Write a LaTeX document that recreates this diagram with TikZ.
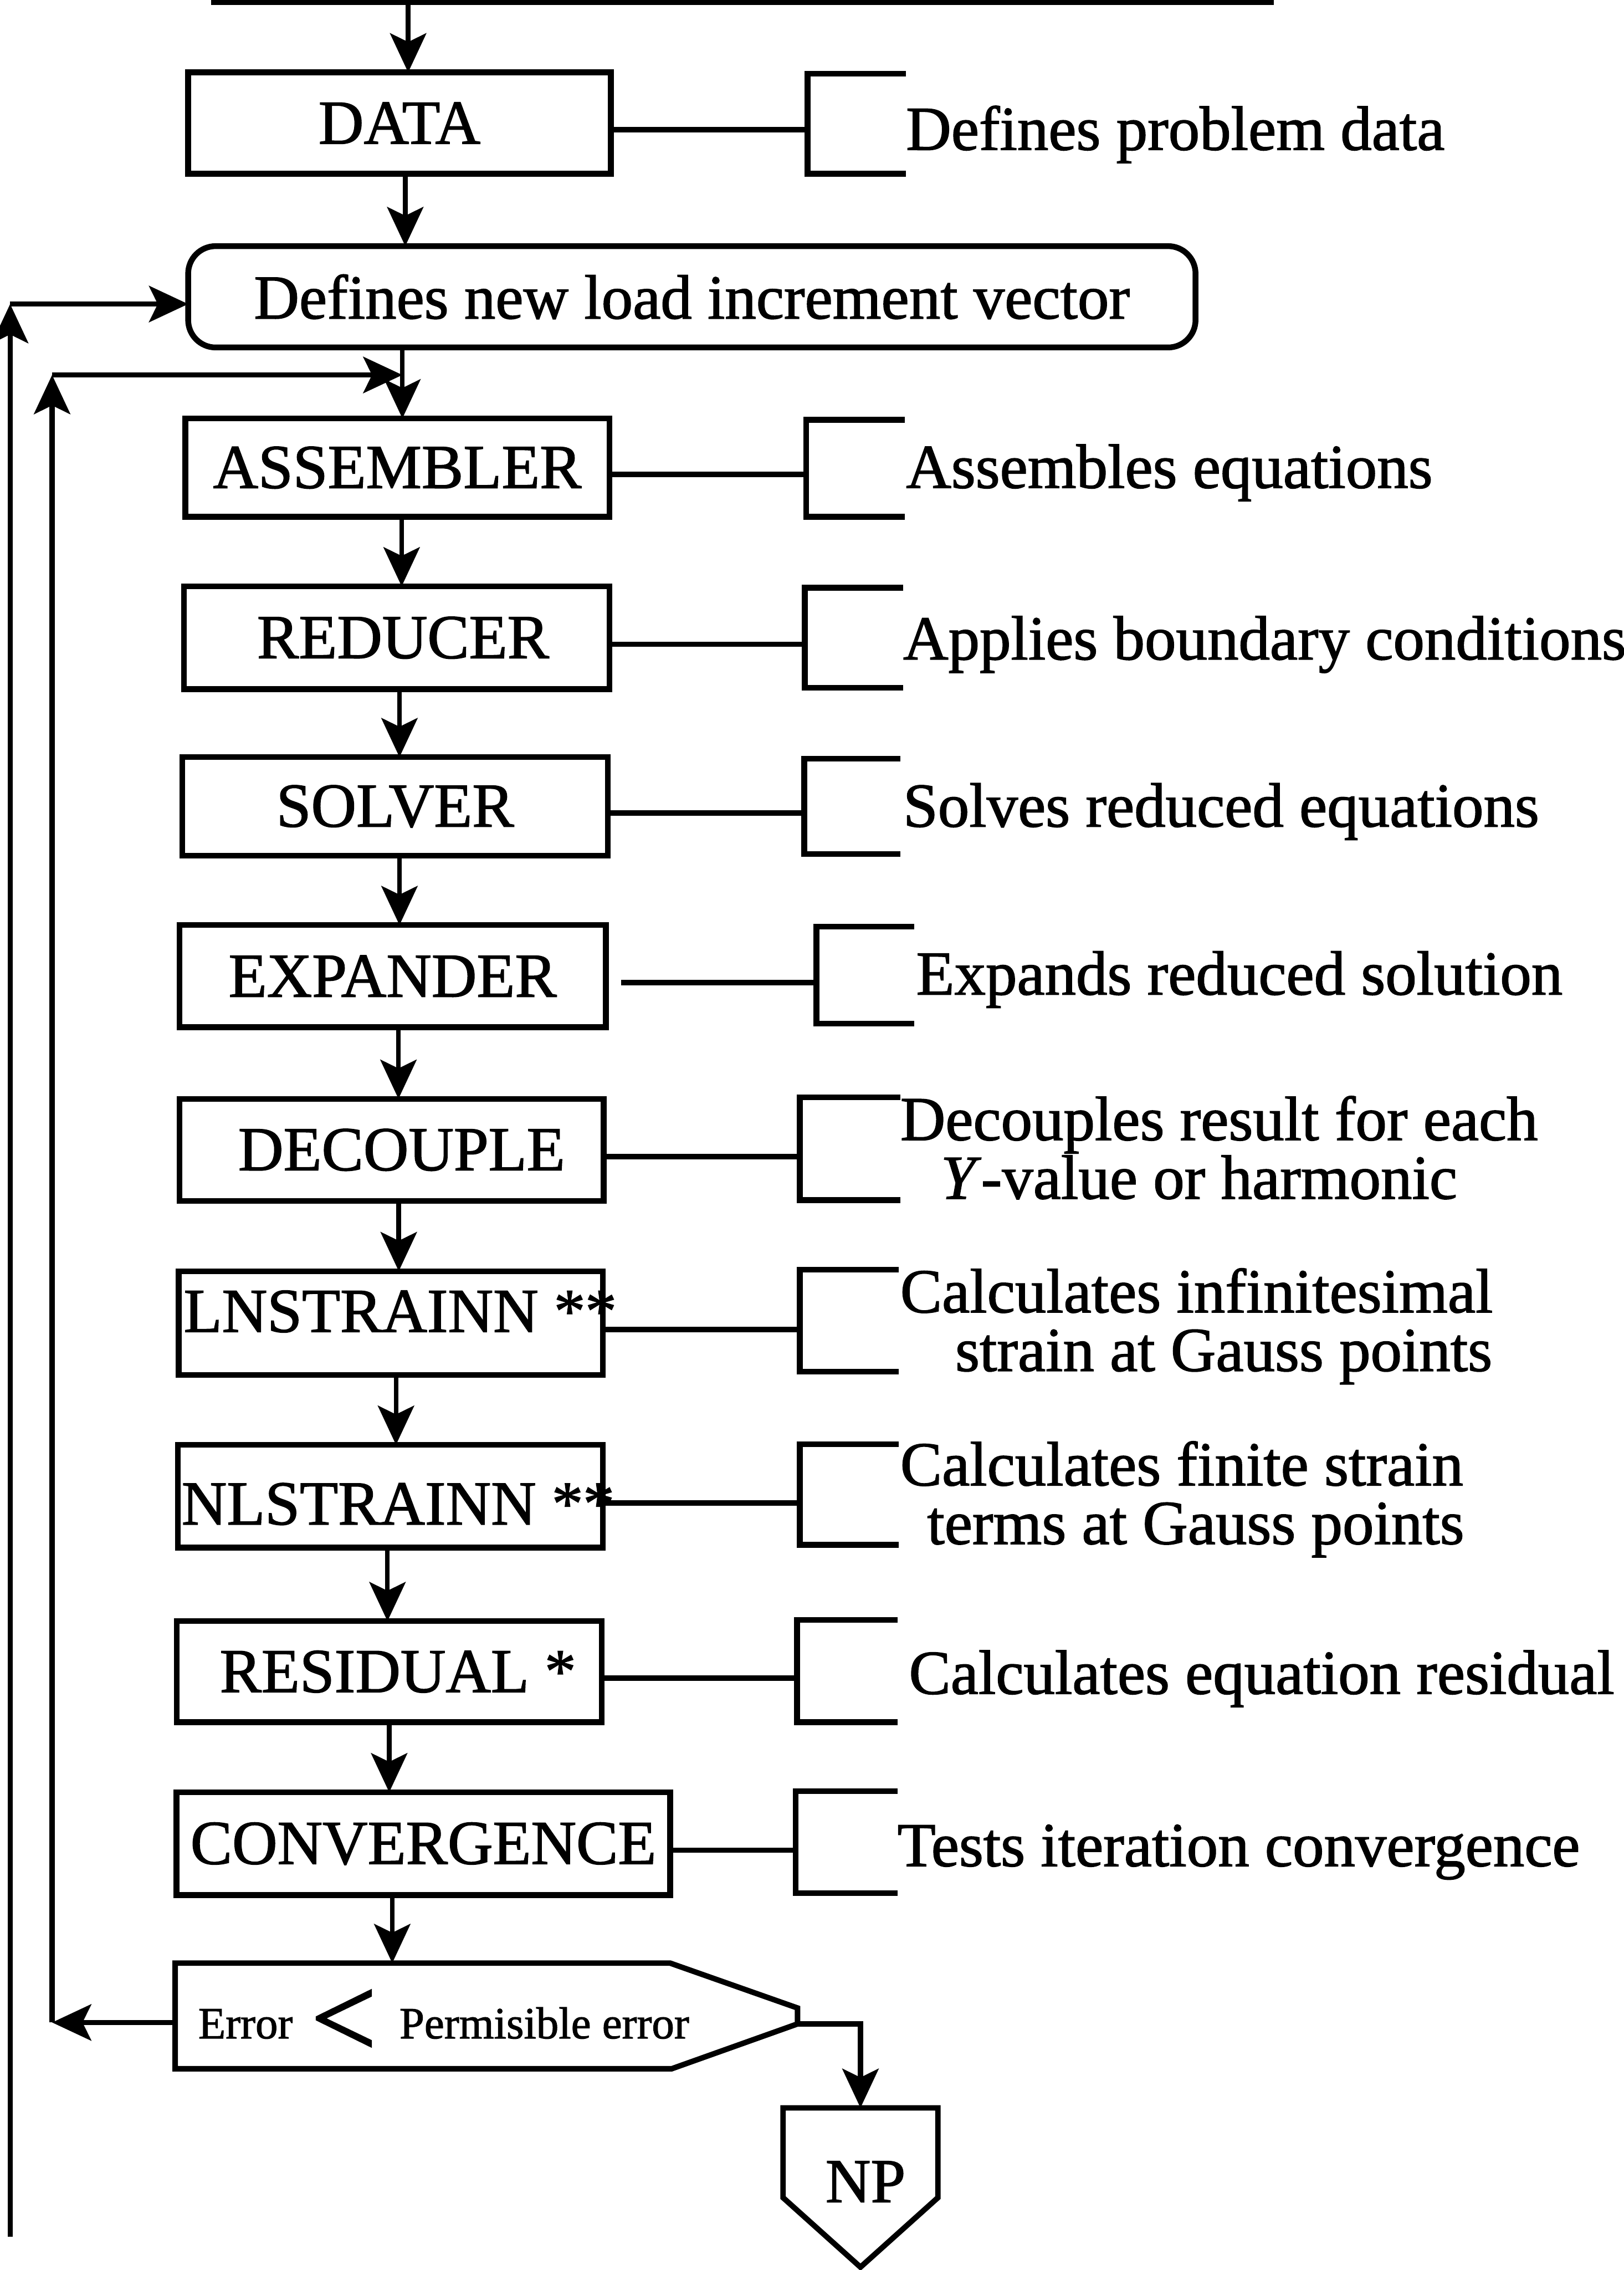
\documentclass[tikz,border=0pt]{standalone}
\usepackage{fontspec}
\setmainfont{Liberation Serif}[FakeBold=1.4]
\usetikzlibrary{arrows.meta,calc}
\begin{document}
\begin{tikzpicture}[x=0.1mm,y=-0.1mm,
  every node/.style={inner sep=0pt, outer sep=0pt},
  txt/.style={font=\fontsize{12.3pt}{14pt}\selectfont},
  proc/.style={draw, line width=0.4mm, rectangle, txt},
  roundbox/.style={proc, rounded corners=1.9mm},
  hold/.style={draw=none, rectangle},
  note/.style={txt, anchor=base west},
  small/.style={font=\fontsize{8.8pt}{10pt}\selectfont, anchor=base west},
  brk/.style={line width=0.4mm, line join=miter},
  conn/.style={line width=0.38mm},
  tip/.style={-{Stealth[length=2.7mm, width=2.5mm, inset=0.6mm]}},
  flow/.style={line width=0.32mm, tip},
  back/.style={line width=0.36mm, tip},
]
\useasboundingbox (0,0) rectangle (1122,1568);

% ---------- main column ----------
\node[proc, minimum width=29.2mm, minimum height=7mm] (data) at (276,85) {DATA};
\node[roundbox, minimum width=69.6mm, minimum height=7mm] (nlv) at (478,205) {Defines new load increment vector};
\node[proc, minimum width=29.3mm, minimum height=6.8mm] (asm) at (274.5,323) {ASSEMBLER};
\node[proc, minimum width=29.4mm, minimum height=7.1mm] (red) at (274,440.5) {\hspace*{0.9mm}REDUCER};
\node[proc, minimum width=29.4mm, minimum height=6.8mm] (sol) at (273,557) {SOLVER};
\node[proc, minimum width=29.46mm, minimum height=7.05mm] (exp) at (271.3,674.25) {EXPANDER};
\node[proc, minimum width=29.3mm, minimum height=7.05mm] (dcp) at (270.5,794.25) {\hspace*{1.4mm}DECOUPLE};
\node[proc, minimum width=29.3mm, minimum height=7.17mm] (lns) at (270,913.9) {};
\node[note] (lnsl) at (127,920) {LNSTRAINN **};
\node[proc, minimum width=29.38mm, minimum height=7.1mm] (nls) at (269.7,1033.5) {};
\node[note] (nlsl) at (125.5,1053) {NLSTRAINN **};
\node[proc, minimum width=29.37mm, minimum height=6.98mm] (res) at (268.9,1154.7) {\hspace*{1.2mm}RESIDUAL *};
\node[proc, minimum width=34.1mm, minimum height=7.1mm] (cnv) at (292.5,1273.5) {CONVERGENCE};

% decision box
\node[hold, minimum width=43mm, minimum height=7.3mm] (test) at (336,1392.5) {};
\draw[conn, line join=miter] (test.north west) -- ++(342,0) -- ([yshift=0.55mm]test.east)
  -- ([yshift=-0.55mm]test.east) -- ($(test.south west)+(343,0)$) -- (test.south west) -- cycle;
\node[small] (err) at (137,1408) {Error};
\node[font=\fontsize{23pt}{24pt}\selectfont, anchor=base west] (lt) at (214.7,1421) {<};
\node[small] (perm) at (276,1408) {Permisible error};

% end connector
\node[hold, minimum width=10.7mm, minimum height=6.2mm] (np) at (594.5,1487) {};
\draw[conn, line join=miter] (np.south west) -- (np.north west) -- (np.north east)
  -- (np.south east) -- ($(np.south)+(0,48)$) -- cycle;
\node[txt] (npl) at (598,1507) {NP};

% ---------- description column ----------
\node[hold, minimum width=6.8mm, minimum height=6.9mm] (br1) at (592,85.5) {};
\node[hold, minimum width=6.8mm, minimum height=6.7mm] (br2) at (591,323.5) {};
\node[hold, minimum width=6.8mm, minimum height=6.9mm] (br3) at (590,440.5) {};
\node[hold, minimum width=6.64mm, minimum height=6.6mm] (br4) at (588.8,557) {};
\node[hold, minimum width=6.76mm, minimum height=6.7mm] (br5) at (597.8,673.5) {};
\node[hold, minimum width=6.95mm, minimum height=7.1mm] (br6) at (587.25,793.5) {};
\node[hold, minimum width=6.85mm, minimum height=7.05mm] (br7) at (586.75,912.25) {};
\node[hold, minimum width=6.85mm, minimum height=6.94mm] (br8) at (586.75,1032.3) {};
\node[hold, minimum width=6.94mm, minimum height=7.05mm] (br9) at (585.3,1154.25) {};
\node[hold, minimum width=7.03mm, minimum height=7.03mm] (br10) at (584.85,1272.45) {};
\foreach \b in {br1,br2,br3,br4,br5,br6,br7,br8,br9,br10}
  \draw[brk] (\b.north east) -- (\b.north west) -- (\b.south west) -- (\b.south east);

\foreach \n/\b/\s in {data/br1/0mm, asm/br2/0mm, red/br3/0mm, sol/br4/0mm, exp/br5/1.05mm,
    dcp/br6/0mm, lns/br7/0mm, nls/br8/0mm, res/br9/0mm, cnv/br10/0mm} {
  \path ([xshift=\s, yshift=-0.45mm]\n.east) coordinate (cc);
  \draw[conn] (cc) -- (cc -| \b.west);
}

\node[note] (d1) at (626,103.5) {Defines problem data};
\node[note] (d2) at (626,337) {Assembles equations};
\node[note] (d3) at (624,455.5) {Applies boundary conditions};
\node[note] (d4) at (624,571) {Solves reduced equations};
\node[note] (d5) at (633,687) {Expands reduced solution};
\node[note] (d6) at (622,787.5) {\vtop{\baselineskip=4.05mm\hbox{Decouples result for each}\hbox{\hspace*{2.8mm}\textit{Y}-value or harmonic}}};
\node[note] (d7) at (622,906.5) {\vtop{\baselineskip=4.05mm\hbox{Calculates infinitesimal}\hbox{\hspace*{3.8mm}strain at Gauss points}}};
\node[note] (d8) at (622,1026) {\vtop{\baselineskip=4.05mm\hbox{Calculates finite strain}\hbox{\hspace*{1.86mm}terms at Gauss points}}};
\node[note] (d9) at (628,1170) {Calculates equation residual};
\node[note] (d10) at (620,1289) {Tests iteration convergence};

% ---------- flow arrows ----------
\coordinate (tl) at (146,1.5);
\coordinate (tr) at (880,1.5);
\coordinate (tin) at (282,1.5);
\draw[conn] (tl) -- (tr);
\draw[flow] (tin) -- (tin |- data.north);

\path ([xshift=0.4mm]data.south) coordinate (a1);
\draw[flow] (a1) -- (a1 |- nlv.north);
\path ([xshift=0.35mm]asm.north) coordinate (asmin);
\draw[flow] (asmin |- nlv.south) -- (asmin);
\path ([xshift=0.3mm]asm.south) coordinate (a2);
\draw[flow] (a2) -- (a2 |- red.north);
\path ([xshift=0.2mm]red.south) coordinate (a3);
\draw[flow] (a3) -- (a3 |- sol.north);
\path ([xshift=0.3mm]sol.south) coordinate (a4);
\draw[flow] (a4) -- (a4 |- exp.north);
\path ([xshift=0.4mm]exp.south) coordinate (a5);
\draw[flow] (a5) -- (a5 |- dcp.north);
\path ([xshift=0.5mm]dcp.south) coordinate (a6);
\draw[flow] (a6) -- (a6 |- lns.north);
\path ([xshift=0.36mm]lns.south) coordinate (a7);
\draw[flow] (a7) -- (a7 |- nls.north);
\path ([xshift=-0.2mm]nls.south) coordinate (a8);
\draw[flow] (a8) -- (a8 |- res.north);
\draw[flow] (res.south) -- (res.south |- cnv.north);
\path ([xshift=-2.15mm]cnv.south) coordinate (a9);
\draw[flow] (a9) -- (a9 |- test.north);

% exit to NP
\path ([yshift=-0.55mm]test.east) coordinate (tx);
\draw[back] (tx) -| (np.north);

% ---------- iteration loops ----------
\coordinate (ob) at (7,1545);
\coordinate (ot) at (7,210);
\coordinate (it) at (36,259);
\draw[back] (ob) -- (ot);
\draw[back] (ot) -- (ot -| nlv.west);
\path ([yshift=-0.45mm]test.west) coordinate (tw);
\draw[back] (tw) -- (tw -| it);
\draw[back] (tw -| it) -- (it);
\draw[back] (it) -- (it -| asmin);
\end{tikzpicture}
\end{document}
